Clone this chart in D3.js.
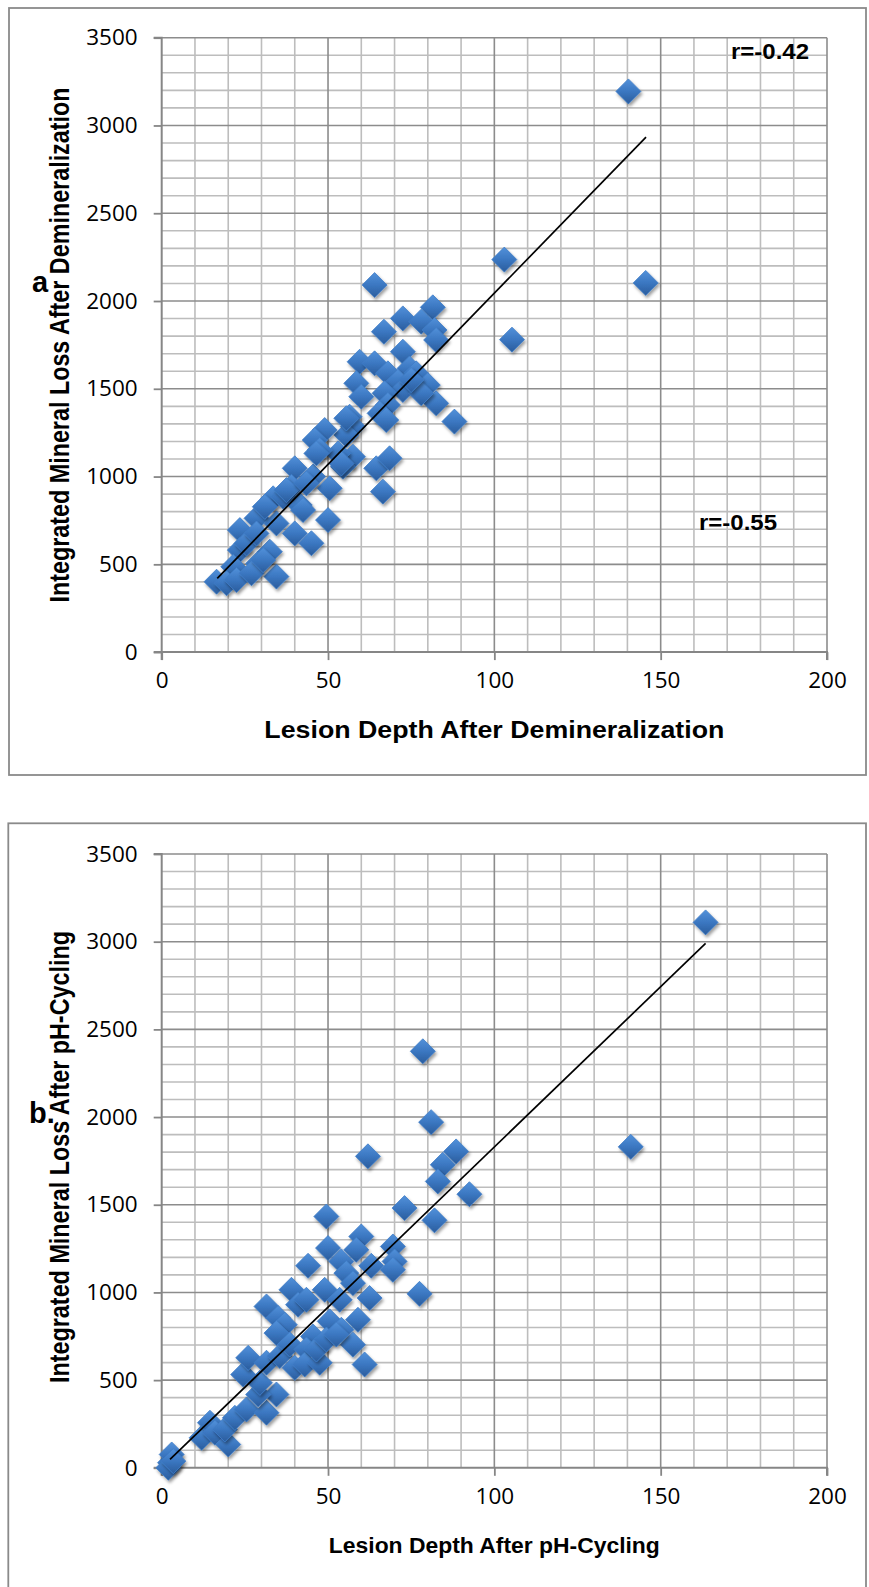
<!DOCTYPE html>
<html><head><meta charset="utf-8">
<script src="https://cdn.jsdelivr.net/npm/d3@7"></script>
<style>body{margin:0;background:#fff}svg{display:block}</style>
</head><body>
<svg id="c" width="869" height="1587"></svg>
<script>
const xTicks = [0, 50, 100, 150, 200];
const yTicks = [0, 500, 1000, 1500, 2000, 2500, 3000, 3500];
const xMinorStep = 10, yMinorStep = 100;

// Panel a: Lesion depth vs integrated mineral loss after demineralization
const topX = [64,81.5,72.5,78,66.8,82,82.5,59.5,72.5,64,68,74.5,76.5,58.5,71,80,72.5,67,60,82.5,88,68,65.5,67.5,56.5,57.5,55.5,49,46,57.5,53,47.5,54.5,64.5,68.5,66.5,40,45.5,50.5,50,33.5,36.5,41.5,39,28.5,23.5,34.5,40,45,34.5,23.5,29,32.5,21.5,16.5,19.5,22.5,27,25.5,37.5,43.5,54,55.5,46.5,31,28.5,30.5,78,75,42.5,103,105.3,140.3,145.5];
const topY = [2091,1964,1901,1882,1825,1835,1778,1654,1711,1645,1588,1616,1588,1531,1540,1521,1493,1474,1455,1417,1313,1408,1360,1322,1341,1284,1237,1265,1208,1113,1132,1151,1056,1047,1104,914,1047,1000,933,752,876,885,838,942,762,695,733,676,620,430,581,505,572,486,401,392,411,449,619,923,961,1075,1332,1132,828,676,524,1474,1550,809,2236,1780,3194,2103];
const trendTopX = [16.7, 145.6];
const trendTopY = [420, 2934];

// Panel b: after pH-cycling
const botX = [78.5,81,62,88.5,84.5,83,92.5,73,82,49.5,60,69.5,50,58.5,54,70,44,63,69.5,55.5,57.5,39,49,53.5,62.5,77.5,31.5,41,43.5,35,37,50.5,59,54,34.5,45.5,57.5,2.5,3,2,3.5,12,14.5,16,20,19,22,25.5,31.5,34.5,29,29.5,24.5,26,31.5,35.5,38.5,43.5,40,43,47.5,46.5,61,49.5,52.5,163.5,141];
const botY = [2375,1971,1776,1804,1728,1633,1560,1481,1411,1433,1319,1262,1253,1243,1177,1177,1152,1152,1129,1110,1053,1015,1015,958,968,992,920,930,958,854,816,835,844,787,768,749,702,29,76,0,38,171,257,200,133,219,285,333,314,418,418,485,532,627,599,637,703,675,570,589,599,675,589,732,760,3110,1830];
const trendBotX = [2.5, 163.5];
const trendBotY = [48, 2990];

const panels = [
  {frame:[9,8,857,767], x0:161.7, x1:827, yT:37.7, yB:652.1,
   xs:topX, ys:topY, tx:trendTopX, ty:trendTopY,
   xTitle:"Lesion Depth After Demineralization", xTitleY:738, xTitleLen:460, xTitleSize:23.5,
   yTitle:"Integrated Mineral Loss After Demineralization", yTitleC:345, yTitleLen:515,
   tag:"a", tagX:32, tagY:292,
   notes:[{t:"r=-0.42", x:731, y:58.5},{t:"r=-0.55", x:699, y:530}]},
  {frame:[8.3,823.3,857.7,900], x0:161.7, x1:827, yT:854, yB:1467.8,
   xs:botX, ys:botY, tx:trendBotX, ty:trendBotY,
   xTitle:"Lesion Depth After pH-Cycling", xTitleY:1553, xTitleLen:331, xTitleSize:22.5,
   yTitle:"Integrated Mineral Loss After pH-Cycling", yTitleC:1157, yTitleLen:452,
   tag:"b.", tagX:29, tagY:1123, notes:[]}
];

const svg = d3.select("#c");
const defs = svg.append("defs");
const grad = defs.append("linearGradient").attr("id","dg").attr("x1",0).attr("y1",0).attr("x2",0).attr("y2",1);
grad.append("stop").attr("offset","0%").attr("stop-color","#5291da");
grad.append("stop").attr("offset","50%").attr("stop-color","#3b77c1");
grad.append("stop").attr("offset","100%").attr("stop-color","#2a5c9c");
const f = defs.append("filter").attr("id","sh").attr("x","-50%").attr("y","-50%").attr("width","200%").attr("height","200%");
f.append("feDropShadow").attr("dx",1.5).attr("dy",2.5).attr("stdDeviation",1.6).attr("flood-color","#000").attr("flood-opacity",0.38);

const tickFont = "'Open Sans', 'Liberation Sans', sans-serif";
const boldFont = "'Liberation Sans', Arial, sans-serif";

panels.forEach(p => {
  const g = svg.append("g");
  g.append("rect").attr("x",p.frame[0]).attr("y",p.frame[1]).attr("width",p.frame[2]).attr("height",p.frame[3])
    .attr("fill","#fff").attr("stroke","#8a8a8a").attr("stroke-width",1.8);

  const x = d3.scaleLinear().domain([0,200]).range([p.x0,p.x1]);
  const y = d3.scaleLinear().domain([0,3500]).range([p.yB,p.yT]);

  // minor grid
  const xm = d3.range(0,200+1e-9,xMinorStep).filter(v => v % 50 !== 0);
  const ym = d3.range(0,3500+1e-9,yMinorStep).filter(v => v % 500 !== 0);
  g.selectAll(".vm").data(xm).join("line").attr("x1",d=>x(d)).attr("x2",d=>x(d)).attr("y1",p.yT).attr("y2",p.yB)
    .attr("stroke","#bdbdbd").attr("stroke-width",1.6);
  g.selectAll(".hm").data(ym).join("line").attr("y1",d=>y(d)).attr("y2",d=>y(d)).attr("x1",p.x0).attr("x2",p.x1)
    .attr("stroke","#bdbdbd").attr("stroke-width",1.6);
  // major grid
  g.selectAll(".vM").data(xTicks.filter(d=>d>0)).join("line").attr("x1",d=>x(d)).attr("x2",d=>x(d)).attr("y1",p.yT).attr("y2",p.yB)
    .attr("stroke","#8c8c8c").attr("stroke-width",1.6);
  g.selectAll(".hM").data(yTicks.filter(d=>d>0)).join("line").attr("y1",d=>y(d)).attr("y2",d=>y(d)).attr("x1",p.x0).attr("x2",p.x1)
    .attr("stroke","#8c8c8c").attr("stroke-width",1.6);

  // axes
  const xa = g.append("g").attr("transform",`translate(0,${p.yB})`)
    .call(d3.axisBottom(x).tickValues(xTicks).tickSize(8).tickPadding(12).tickFormat(d3.format("d")));
  const ya = g.append("g").attr("transform",`translate(${p.x0},0)`)
    .call(d3.axisLeft(y).tickValues(yTicks).tickSize(8).tickPadding(16).tickFormat(d3.format("d")));
  [xa,ya].forEach(a => {
    a.select(".domain").attr("stroke","#868686").attr("stroke-width",2);
    a.selectAll(".tick line").attr("stroke","#868686").attr("stroke-width",1.8);
    a.selectAll(".tick text").attr("font-family",tickFont).attr("font-size",22.5).attr("fill","#000");
  });
  xa.select(".domain").attr("d",`M${p.x0},8V0H${p.x1}V8`);
  ya.select(".domain").attr("d",`M-8,${p.yB}H0V${p.yT}H-8`);

  // points
  const r = 12.5;
  g.selectAll(".pt").data(d3.zip(p.xs,p.ys)).join("path")
    .attr("d",d=>`M${x(d[0])},${y(d[1])-r}L${x(d[0])+r},${y(d[1])}L${x(d[0])},${y(d[1])+r}L${x(d[0])-r},${y(d[1])}Z`)
    .attr("fill","url(#dg)").attr("stroke","#3f7cc6").attr("stroke-width",0.8).attr("filter","url(#sh)");

  // trend line
  g.append("line").attr("x1",x(p.tx[0])).attr("y1",y(p.ty[0])).attr("x2",x(p.tx[1])).attr("y2",y(p.ty[1]))
    .attr("stroke","#000").attr("stroke-width",1.7);

  // titles
  g.append("text").attr("x",(p.x0+p.x1)/2).attr("y",p.xTitleY).attr("text-anchor","middle")
    .attr("font-family",boldFont).attr("font-weight","bold").attr("font-size",p.xTitleSize)
    .attr("textLength",p.xTitleLen).attr("lengthAdjust","spacingAndGlyphs").text(p.xTitle);
  g.append("text").attr("transform",`translate(69,${p.yTitleC}) rotate(-90)`).attr("text-anchor","middle")
    .attr("font-family",boldFont).attr("font-weight","bold").attr("font-size",27)
    .attr("textLength",p.yTitleLen).attr("lengthAdjust","spacingAndGlyphs").text(p.yTitle);
  g.append("text").attr("x",p.tagX).attr("y",p.tagY).attr("font-family",boldFont).attr("font-weight","bold")
    .attr("font-size",29).text(p.tag);
  p.notes.forEach(n => {
    g.append("text").attr("x",n.x).attr("y",n.y).attr("font-family",boldFont).attr("font-weight","bold")
      .attr("font-size",22).attr("textLength",78).attr("lengthAdjust","spacingAndGlyphs").text(n.t);
  });
});
</script>
</body></html>
